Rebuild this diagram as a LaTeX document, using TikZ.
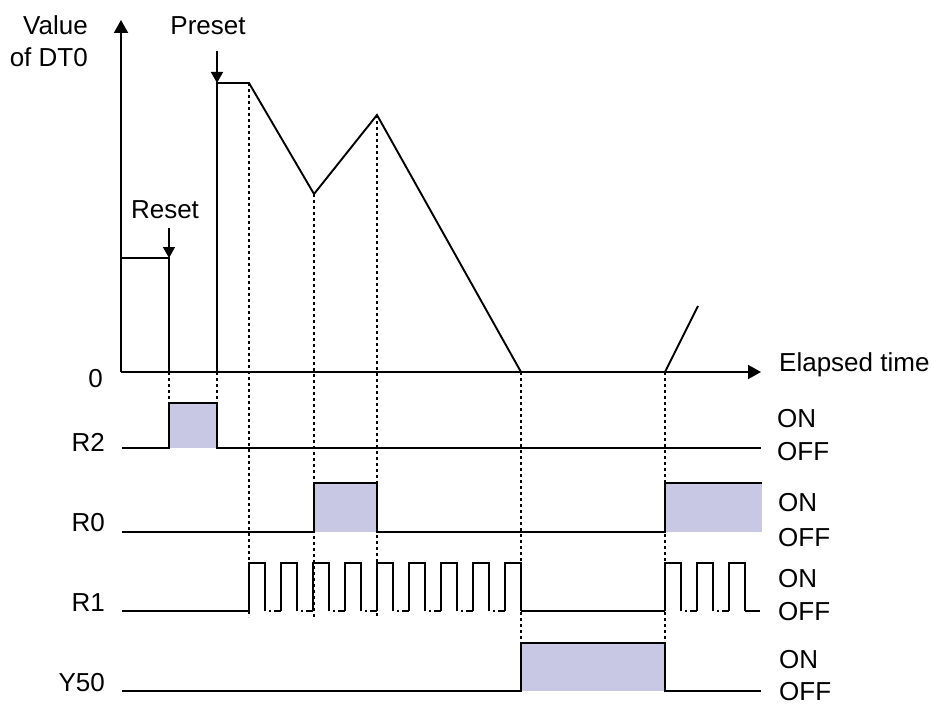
\documentclass[tikz,border=0pt]{standalone}
\usepackage{fontspec}
\setmainfont{Liberation Sans}
\usetikzlibrary{arrows.meta}
\definecolor{pulsefill}{RGB}{200,200,228}
\begin{document}
\begin{tikzpicture}[x=1pt,y=-1pt,line join=miter,
  sig/.style={line width=1.9pt},
  guide/.style={line width=1.3pt,dash pattern=on 3pt off 3pt},
  lbl/.style={font=\fontsize{26}{31}\selectfont,inner sep=0pt},
  pulse/.style={fill=pulsefill,draw=none},
  axarrow/.style={-{Triangle[width=14pt,length=13pt]}},
  evarrow/.style={line width=1.5pt,-{Triangle[width=12pt,length=11pt]}}]
\useasboundingbox (0,0) rectangle (933,706);

% coordinates
\coordinate (O) at (121,372);
\coordinate (ytop) at (121,20);
\coordinate (xend) at (761,372);

% pulse fills
\fill[pulsefill] (169,403) rectangle (217,448);
\fill[pulsefill] (314,483) rectangle (377,532);
\fill[pulsefill] (665,483) rectangle (762,532);
\fill[pulsefill] (521,643) rectangle (665,691);

% guide lines
\draw[guide] (169,372) -- (169,403);
\draw[guide] (217,372) -- (217,403);
\draw[guide] (249,83) -- (249,617);
\draw[guide] (314,194) -- (314,617);
\draw[guide] (377,115) -- (377,617);
\draw[guide] (521,372) -- (521,643);
\draw[guide] (665,372) -- (665,643);

% axes
\draw[sig,axarrow] (O) -- (ytop);
\draw[sig,axarrow] (O) -- (xend);

% DT0 curve
\draw[sig] (121,258) -- (169,258) -- (169,372);
\draw[sig] (217,372) -- (217,83) -- (249,83) -- (314,194) -- (377,115)
  -- (521,372) -- (665,372) -- (698,306);

% event arrows
\coordinate (rs0) at (169,228);
\coordinate (rs1) at (169,258);
\coordinate (ps0) at (217,51);
\coordinate (ps1) at (217,83);
\draw[evarrow] (rs0) -- (rs1);
\draw[evarrow] (ps0) -- (ps1);

% R2
\draw[sig] (122,448) -- (169,448) -- (169,403) -- (217,403) -- (217,448) -- (761,448);
% R0
\draw[sig] (122,532) -- (314,532) -- (314,483) -- (377,483) -- (377,532)
  -- (665,532) -- (665,483) -- (762,483);
% R1
\draw[sig] (122,611) -- (249,611);
\foreach \x in {249,281,...,505}{
  \draw[sig] (\x,611) -- (\x,563) -- ({\x+16},563) -- ({\x+16},611);
}
\foreach \x in {265,297,...,489}{
  \draw[sig] ({\x+4},611) -- ({\x+6},611);
  \draw[sig] ({\x+9},611) -- ({\x+16},611);
}
\draw[sig] (521,611) -- (665,611);
\foreach \x in {665,697,729}{
  \draw[sig] (\x,611) -- (\x,563) -- ({\x+16},563) -- ({\x+16},611);
}
\foreach \x in {681,713}{
  \draw[sig] ({\x+4},611) -- ({\x+6},611);
  \draw[sig] ({\x+9},611) -- ({\x+16},611);
}
\draw[sig] (745,611) -- (760,611);
% Y50
\draw[sig] (122,691) -- (521,691) -- (521,643) -- (665,643) -- (665,691) -- (761,691);

% labels
\node[lbl,anchor=base east] (val) at (88,35) {Value};
\node[lbl,anchor=base east] (of) at (88,67) {of DT0};
\node[lbl,anchor=base] (preset) at (208,35) {Preset};
\node[lbl,anchor=base] (reset) at (165,218) {Reset};
\node[lbl,anchor=base east] (zero) at (103,387) {0};
\node[lbl,anchor=base west] (elapsed) at (779,371) {Elapsed time};

\node[lbl,anchor=base east] (r2) at (105,451) {R2};
\node[lbl,anchor=base east] (r0) at (105,531) {R0};
\node[lbl,anchor=base east] (r1) at (105,611) {R1};
\node[lbl,anchor=base east] (y50) at (105,691) {Y50};

\node[lbl,anchor=base west] (r2on) at (777,427) {ON};
\node[lbl,anchor=base west] (r2off) at (777,460) {OFF};
\node[lbl,anchor=base west] (r0on) at (778,511) {ON};
\node[lbl,anchor=base west] (r0off) at (778,546) {OFF};
\node[lbl,anchor=base west] (r1on) at (778,587) {ON};
\node[lbl,anchor=base west] (r1off) at (778,620) {OFF};
\node[lbl,anchor=base west] (y50on) at (779,668) {ON};
\node[lbl,anchor=base west] (y50off) at (779,700) {OFF};
\end{tikzpicture}
\end{document}
